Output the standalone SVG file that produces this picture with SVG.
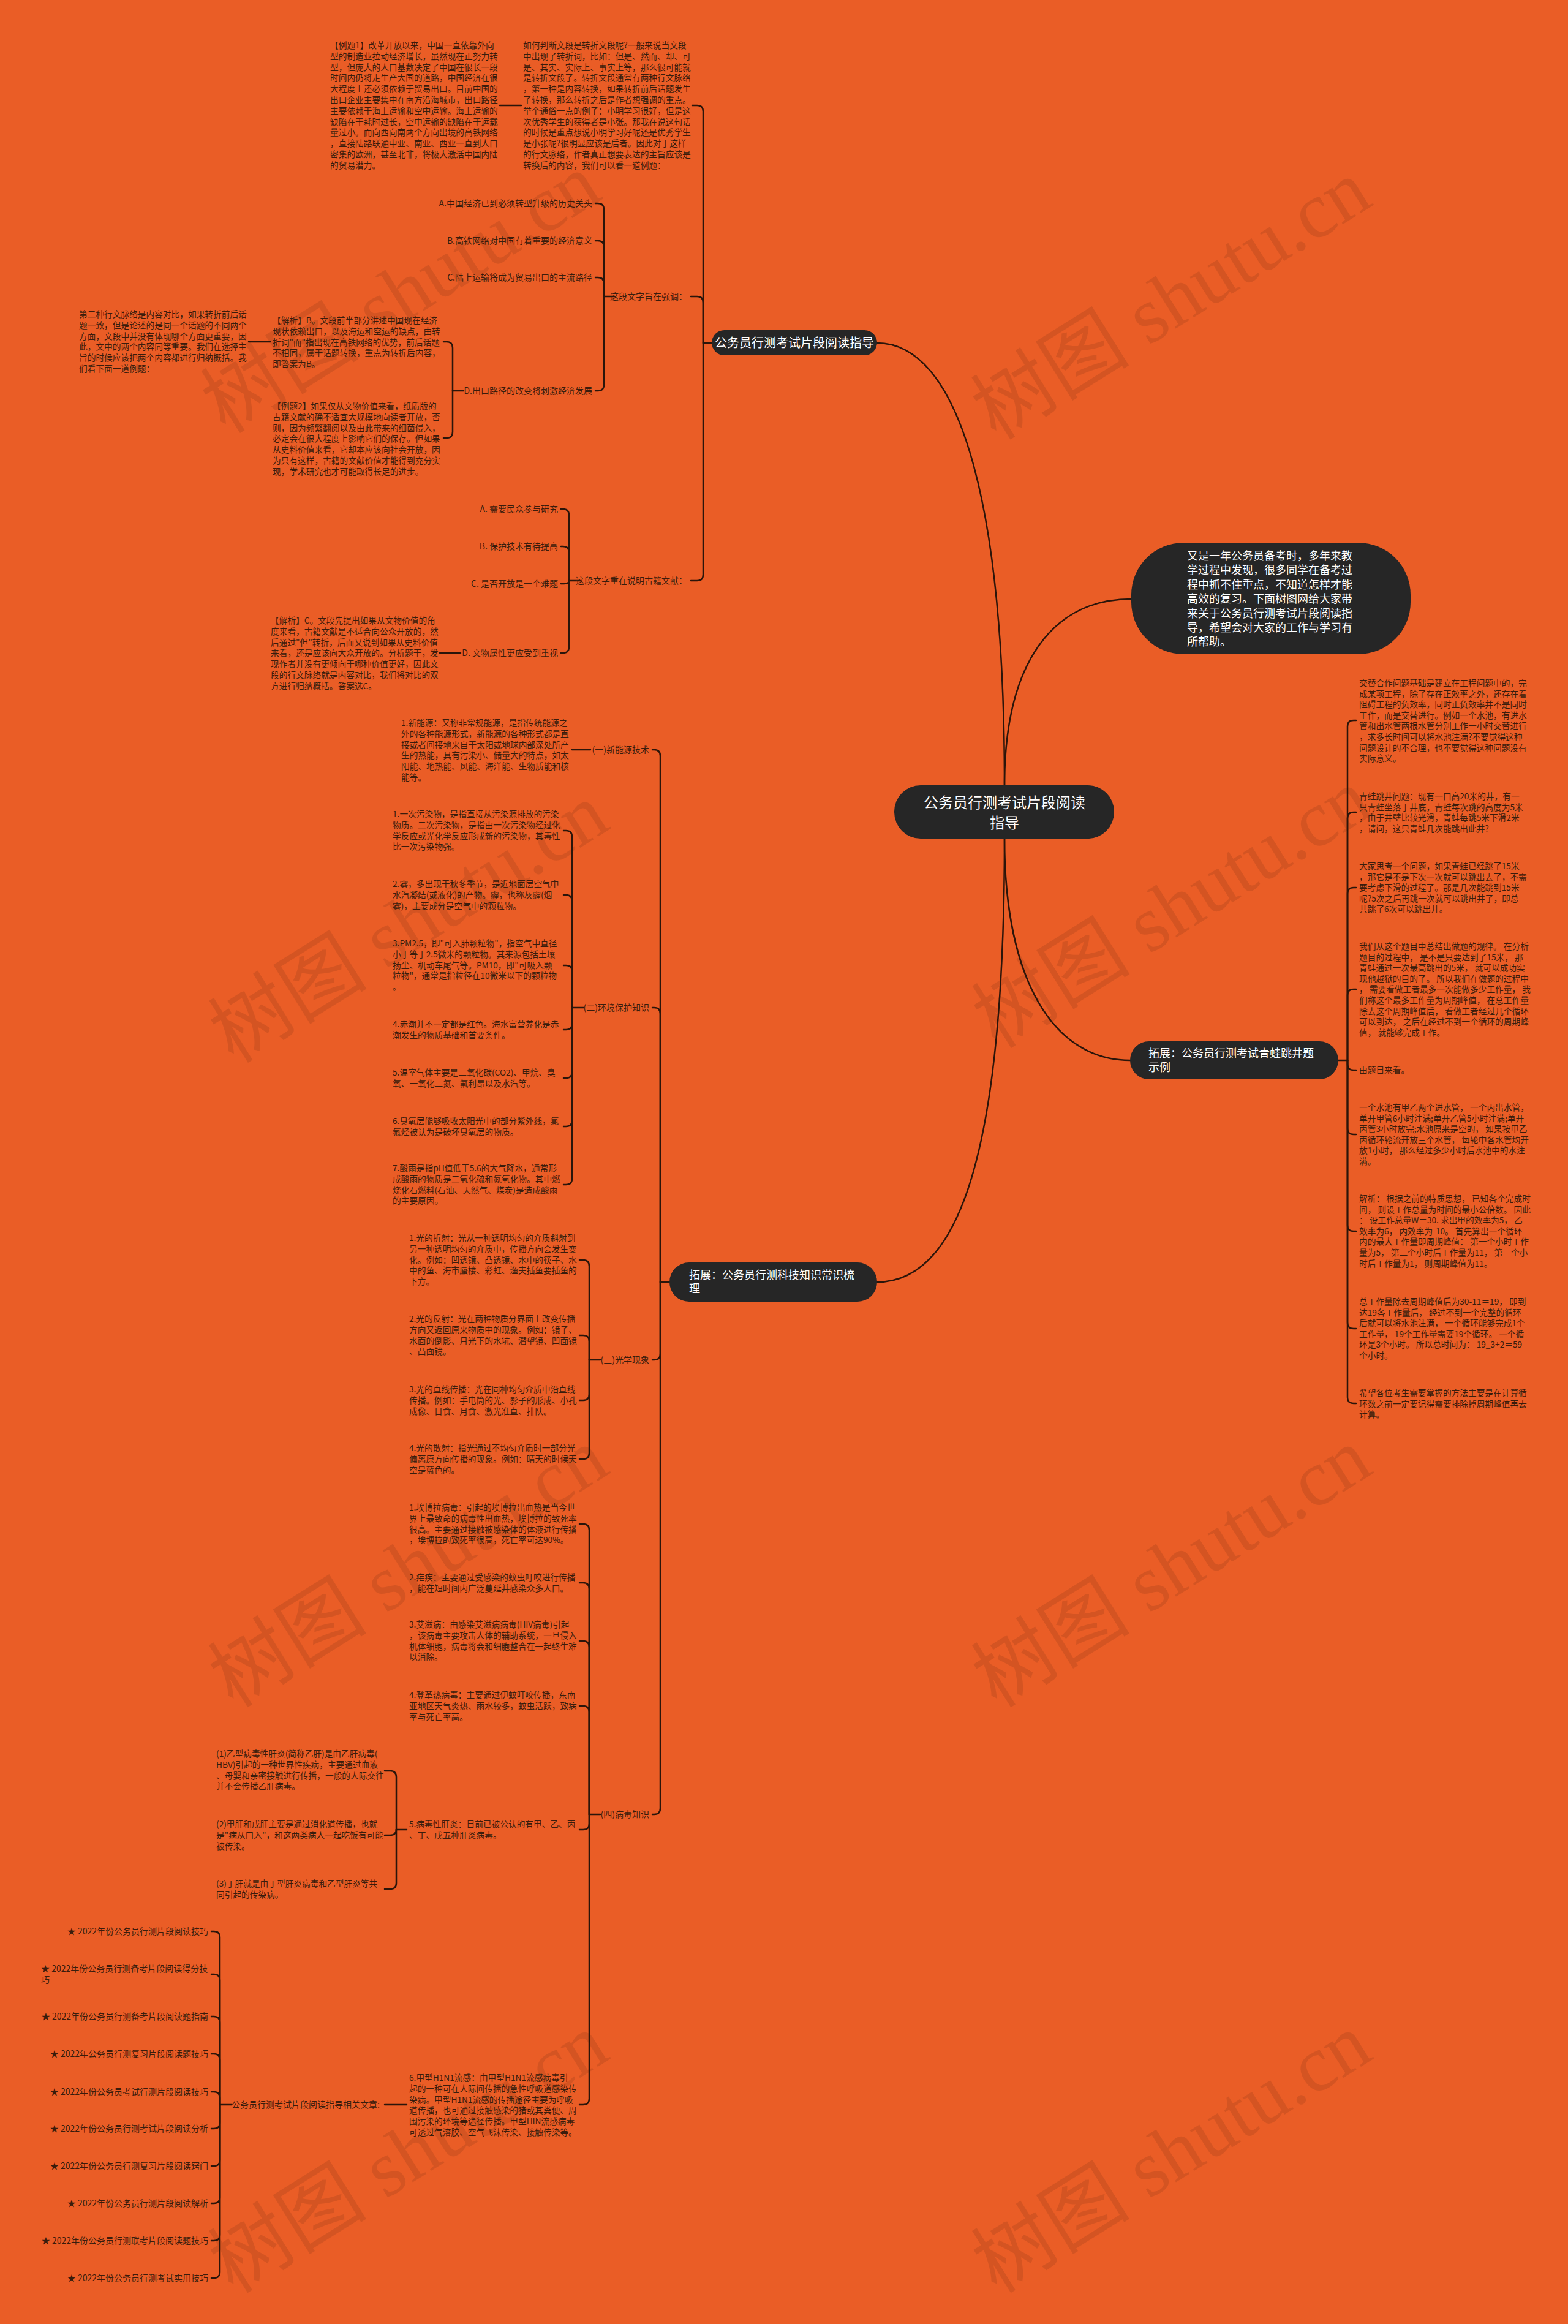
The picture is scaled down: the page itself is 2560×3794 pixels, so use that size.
<svg xmlns="http://www.w3.org/2000/svg" width="2560" height="3794" viewBox="0 0 2560 3794">
<style>
.t{font-family:"Noto Sans CJK SC","Noto Sans",sans-serif;font-size:13.7px;fill:#3a1c0c}
.l{font-family:"Noto Sans CJK SC","Noto Sans",sans-serif;font-size:14px;fill:#3a1c0c}
.nt{font-family:"Noto Sans CJK SC","Noto Sans",sans-serif;fill:#ffffff}
.n{fill:#262626}
.c{fill:none;stroke:#2b150a;stroke-width:2.5;stroke-linecap:round}
.wm{font-family:"Liberation Serif","Noto Sans CJK SC",serif;font-size:130px;fill:#000;opacity:0.09}
</style>
<rect x="0" y="0" width="2560" height="3794" fill="#EA5D26"/>
<g id="watermark">
<text class="wm" x="665" y="520" text-anchor="middle" transform="rotate(-32 665 496)">树图 shutu.cn</text>
<text class="wm" x="1924" y="530" text-anchor="middle" transform="rotate(-32 1924 508)">树图 shutu.cn</text>
<text class="wm" x="678" y="1548" text-anchor="middle" transform="rotate(-32 678 1524)">树图 shutu.cn</text>
<text class="wm" x="1924" y="1524" text-anchor="middle" transform="rotate(-32 1924 1500)">树图 shutu.cn</text>
<text class="wm" x="678" y="2600" text-anchor="middle" transform="rotate(-32 678 2577)">树图 shutu.cn</text>
<text class="wm" x="1924" y="2600" text-anchor="middle" transform="rotate(-32 1924 2577)">树图 shutu.cn</text>
<text class="wm" x="678" y="3556" text-anchor="middle" transform="rotate(-32 678 3533)">树图 shutu.cn</text>
<text class="wm" x="1924" y="3556" text-anchor="middle" transform="rotate(-32 1924 3533)">树图 shutu.cn</text>
</g>
<g id="connectors">
<path class="c" d="M1640,1282 C1640,800 1560,560 1432,560"/>
<path class="c" d="M1640,1282 C1640,1080 1720,978 1847,978"/>
<path class="c" d="M1640,1369 C1640,1600 1720,1731 1845,1731"/>
<path class="c" d="M1640,1369 C1640,1900 1560,2093 1432,2093"/>
<!-- branch 1 -->
<path class="c" d="M1162,560 H1148"/>
<path class="c" d="M1148,560 V182 Q1148,172 1138,172 H1130"/>
<path class="c" d="M1148,560 V494 Q1148,484 1138,484 H1128"/>
<path class="c" d="M1148,560 V938 Q1148,948 1138,948 H1128"/>
<path class="c" d="M851,172 H816"/>
<path class="c" d="M1003,484 H986"/>
<path class="c" d="M986,484 V342 Q986,332 976,332 H972"/>
<path class="c" d="M986,484 V403 Q986,393 976,393 H972"/>
<path class="c" d="M986,484 V463 Q986,453 976,453 H972"/>
<path class="c" d="M986,484 V628 Q986,638 976,638 H972"/>
<path class="c" d="M757,638 H739"/>
<path class="c" d="M739,638 V568 Q739,558 729,558 H724"/>
<path class="c" d="M739,638 V705 Q739,715 729,715 H724"/>
<path class="c" d="M441,558 H406"/>
<path class="c" d="M947,948 H929"/>
<path class="c" d="M929,948 V841 Q929,831 919,831 H916"/>
<path class="c" d="M929,948 V902 Q929,892 919,892 H916"/>
<path class="c" d="M929,948 Q929,953 921,953 H916"/>
<path class="c" d="M929,948 V1056 Q929,1066 919,1066 H916"/>
<path class="c" d="M752,1066 H718"/>
<!-- right branch -->
<path class="c" d="M2185,1731 H2200"/>
<path class="c" d="M2200,1731 V1186 Q2200,1176 2210,1176 H2214"/>
<path class="c" d="M2200,1731 V1336 Q2200,1326 2210,1326 H2214"/>
<path class="c" d="M2200,1731 V1459 Q2200,1449 2210,1449 H2214"/>
<path class="c" d="M2200,1731 V1625 Q2200,1615 2210,1615 H2214"/>
<path class="c" d="M2200,1731 V1737 Q2200,1747 2210,1747 H2214"/>
<path class="c" d="M2200,1731 V1842 Q2200,1852 2210,1852 H2214"/>
<path class="c" d="M2200,1731 V2000 Q2200,2010 2210,2010 H2214"/>
<path class="c" d="M2200,1731 V2159 Q2200,2169 2210,2169 H2214"/>
<path class="c" d="M2200,1731 V2281 Q2200,2291 2210,2291 H2214"/>
<!-- bottom branch -->
<path class="c" d="M1093,2093 H1078"/>
<path class="c" d="M1078,2093 V1234 Q1078,1224 1068,1224 H1065"/>
<path class="c" d="M1078,2093 V1655 Q1078,1645 1068,1645 H1065"/>
<path class="c" d="M1078,2093 V2210 Q1078,2220 1068,2220 H1065"/>
<path class="c" d="M1078,2093 V2952 Q1078,2962 1068,2962 H1065"/>
<path class="c" d="M964,1224 H934"/>
<path class="c" d="M953,1645 H934"/>
<path class="c" d="M934,1645 V1366 Q934,1356 924,1356 H920"/>
<path class="c" d="M934,1645 V1471 Q934,1461 924,1461 H920"/>
<path class="c" d="M934,1645 V1586 Q934,1576 924,1576 H920"/>
<path class="c" d="M934,1645 V1671 Q934,1681 924,1681 H920"/>
<path class="c" d="M934,1645 V1750 Q934,1760 924,1760 H920"/>
<path class="c" d="M934,1645 V1829 Q934,1839 924,1839 H920"/>
<path class="c" d="M934,1645 V1924 Q934,1934 924,1934 H920"/>
<path class="c" d="M980,2220 H962"/>
<path class="c" d="M962,2220 V2067 Q962,2057 952,2057 H946"/>
<path class="c" d="M962,2220 V2190 Q962,2180 952,2180 H946"/>
<path class="c" d="M962,2220 V2276 Q962,2286 952,2286 H946"/>
<path class="c" d="M962,2220 V2372 Q962,2382 952,2382 H946"/>
<path class="c" d="M980,2962 H962"/>
<path class="c" d="M962,2962 V2498 Q962,2488 952,2488 H946"/>
<path class="c" d="M962,2962 V2594 Q962,2584 952,2584 H946"/>
<path class="c" d="M962,2962 V2689 Q962,2679 952,2679 H946"/>
<path class="c" d="M962,2962 V2795 Q962,2785 952,2785 H946"/>
<path class="c" d="M962,2962 V2977 Q962,2987 952,2987 H946"/>
<path class="c" d="M962,2962 V3426 Q962,3436 952,3436 H946"/>
<path class="c" d="M664,2987 H647"/>
<path class="c" d="M647,2987 V2901 Q647,2891 637,2891 H628"/>
<path class="c" d="M647,2987 V2986 Q647,2996 637,2996 H628"/>
<path class="c" d="M647,2987 V3074 Q647,3084 637,3084 H628"/>
<path class="c" d="M664,3436 H628"/>
<path class="c" d="M378,3436 H359"/>
<path class="c" d="M359,3436 V3163 Q359,3153 349,3153 H345"/>
<path class="c" d="M359,3436 V3233 Q359,3223 349,3223 H345"/>
<path class="c" d="M359,3436 V3302 Q359,3292 349,3292 H345"/>
<path class="c" d="M359,3436 V3363 Q359,3353 349,3353 H345"/>
<path class="c" d="M359,3436 V3425 Q359,3415 349,3415 H345"/>
<path class="c" d="M359,3436 V3465 Q359,3475 349,3475 H345"/>
<path class="c" d="M359,3436 V3526 Q359,3536 349,3536 H345"/>
<path class="c" d="M359,3436 V3587 Q359,3597 349,3597 H345"/>
<path class="c" d="M359,3436 V3648 Q359,3658 349,3658 H345"/>
<path class="c" d="M359,3436 V3709 Q359,3719 349,3719 H345"/>
</g>
<g id="central">
<rect class="n" x="1460" y="1282" width="359" height="87" rx="43"/>
<text class="nt" font-size="24" text-anchor="middle" x="1640" y="1319">公务员行测考试片段阅读<tspan x="1640" dy="33">指导</tspan></text>
</g>
<g id="intro">
<rect class="n" x="1847" y="886" width="456" height="182" rx="85"/>
<text class="nt" font-size="18" x="1938" y="914"><tspan x="1938">又是一年公务员备考时，多年来教</tspan><tspan x="1938" dy="23.4">学过程中发现，很多同学在备考过</tspan><tspan x="1938" dy="23.4">程中抓不住重点，不知道怎样才能</tspan><tspan x="1938" dy="23.4">高效的复习。下面树图网给大家带</tspan><tspan x="1938" dy="23.4">来关于公务员行测考试片段阅读指</tspan><tspan x="1938" dy="23.4">导，希望会对大家的工作与学习有</tspan><tspan x="1938" dy="23.4">所帮助。</tspan></text>
</g>
<g id="branch-reading">
<rect class="n" x="1162" y="539" width="270" height="41" rx="20.5"/>
<text class="nt" font-size="20" text-anchor="middle" x="1297" y="567">公务员行测考试片段阅读指导</text>
</g>
<g id="how-to-judge">
<text class="t" x="854" y="79"><tspan x="854">如何判断文段是转折文段呢?一般来说当文段</tspan><tspan x="854" dy="17.8">中出现了转折词，比如：但是、然而、却、可</tspan><tspan x="854" dy="17.8">是、其实、实际上、事实上等，那么很可能就</tspan><tspan x="854" dy="17.8">是转折文段了。转折文段通常有两种行文脉络</tspan><tspan x="854" dy="17.8">，第一种是内容转换，如果转折前后话题发生</tspan><tspan x="854" dy="17.8">了转换，那么转折之后是作者想强调的重点。</tspan><tspan x="854" dy="17.8">举个通俗一点的例子：小明学习很好，但是这</tspan><tspan x="854" dy="17.8">次优秀学生的获得者是小张。那我在说这句话</tspan><tspan x="854" dy="17.8">的时候是重点想说小明学习好呢还是优秀学生</tspan><tspan x="854" dy="17.8">是小张呢?很明显应该是后者。因此对于这样</tspan><tspan x="854" dy="17.8">的行文脉络，作者真正想要表达的主旨应该是</tspan><tspan x="854" dy="17.8">转换后的内容，我们可以看一道例题：</tspan></text>
</g>
<g id="example1">
<text class="t" x="539" y="79"><tspan x="539">【例题1】改革开放以来，中国一直依靠外向</tspan><tspan x="539" dy="17.8">型的制造业拉动经济增长，虽然现在正努力转</tspan><tspan x="539" dy="17.8">型，但庞大的人口基数决定了中国在很长一段</tspan><tspan x="539" dy="17.8">时间内仍将走生产大国的道路，中国经济在很</tspan><tspan x="539" dy="17.8">大程度上还必须依赖于贸易出口。目前中国的</tspan><tspan x="539" dy="17.8">出口企业主要集中在南方沿海城市，出口路径</tspan><tspan x="539" dy="17.8">主要依赖于海上运输和空中运输。海上运输的</tspan><tspan x="539" dy="17.8">缺陷在于耗时过长，空中运输的缺陷在于运载</tspan><tspan x="539" dy="17.8">量过小。而向西向南两个方向出境的高铁网络</tspan><tspan x="539" dy="17.8">，直接陆路联通中亚、南亚、西亚一直到人口</tspan><tspan x="539" dy="17.8">密集的欧洲，甚至北非，将极大激活中国内陆</tspan><tspan x="539" dy="17.8">的贸易潜力。</tspan></text>
</g>
<g id="question1">
<text class="l" x="1122" y="489" text-anchor="end">这段文字旨在强调：</text>
</g>
<g id="q1-options">
<text class="l" x="967" y="337" text-anchor="end">A.中国经济已到必须转型升级的历史关头</text>
<text class="l" x="967" y="398" text-anchor="end">B.高铁网络对中国有着重要的经济意义</text>
<text class="l" x="967" y="458" text-anchor="end">C.陆上运输将成为贸易出口的主流路径</text>
<text class="l" x="967" y="643" text-anchor="end">D.出口路径的改变将刺激经济发展</text>
</g>
<g id="analysis1">
<text class="t" x="445" y="528"><tspan x="445">【解析】B。文段前半部分讲述中国现在经济</tspan><tspan x="445" dy="17.8">现状依赖出口，以及海运和空运的缺点，由转</tspan><tspan x="445" dy="17.8">折词"而"指出现在高铁网络的优势，前后话题</tspan><tspan x="445" dy="17.8">不相同，属于话题转换，重点为转折后内容，</tspan><tspan x="445" dy="17.8">即答案为B。</tspan></text>
</g>
<g id="second-type">
<text class="t" x="129" y="518"><tspan x="129">第二种行文脉络是内容对比，如果转折前后话</tspan><tspan x="129" dy="17.8">题一致，但是论述的是同一个话题的不同两个</tspan><tspan x="129" dy="17.8">方面，文段中并没有体现哪个方面更重要，因</tspan><tspan x="129" dy="17.8">此，文中的两个内容同等重要。我们在选择主</tspan><tspan x="129" dy="17.8">旨的时候应该把两个内容都进行归纳概括。我</tspan><tspan x="129" dy="17.8">们看下面一道例题：</tspan></text>
</g>
<g id="example2">
<text class="t" x="445" y="668"><tspan x="445">【例题2】如果仅从文物价值来看，纸质版的</tspan><tspan x="445" dy="17.8">古籍文献的确不适宜大规模地向读者开放，否</tspan><tspan x="445" dy="17.8">则，因为频繁翻阅以及由此带来的细菌侵入，</tspan><tspan x="445" dy="17.8">必定会在很大程度上影响它们的保存。但如果</tspan><tspan x="445" dy="17.8">从史料价值来看，它却本应该向社会开放，因</tspan><tspan x="445" dy="17.8">为只有这样，古籍的文献价值才能得到充分实</tspan><tspan x="445" dy="17.8">现，学术研究也才可能取得长足的进步。</tspan></text>
</g>
<g id="question2">
<text class="l" x="1122" y="953" text-anchor="end">这段文字重在说明古籍文献：</text>
</g>
<g id="q2-options">
<text class="l" x="911" y="836" text-anchor="end">A. 需要民众参与研究</text>
<text class="l" x="911" y="897" text-anchor="end">B. 保护技术有待提高</text>
<text class="l" x="911" y="958" text-anchor="end">C. 是否开放是一个难题</text>
<text class="l" x="911" y="1071" text-anchor="end">D. 文物属性更应受到重视</text>
</g>
<g id="analysis2">
<text class="t" x="442" y="1018"><tspan x="442">【解析】C。文段先提出如果从文物价值的角</tspan><tspan x="442" dy="17.8">度来看，古籍文献是不适合向公众开放的，然</tspan><tspan x="442" dy="17.8">后通过"但"转折，后面又说到如果从史料价值</tspan><tspan x="442" dy="17.8">来看，还是应该向大众开放的。分析题干，发</tspan><tspan x="442" dy="17.8">现作者并没有更倾向于哪种价值更好，因此文</tspan><tspan x="442" dy="17.8">段的行文脉络就是内容对比，我们将对比的双</tspan><tspan x="442" dy="17.8">方进行归纳概括。答案选C。</tspan></text>
</g>
<g id="branch-frog">
<rect class="n" x="1845" y="1700" width="340" height="62" rx="31"/>
<text class="nt" font-size="18" x="1875" y="1726"><tspan x="1875">拓展：公务员行测考试青蛙跳井题</tspan><tspan x="1875" dy="23">示例</tspan></text>
</g>
<g id="frog-texts">
<text class="t" x="2219" y="1120"><tspan x="2219">交替合作问题基础是建立在工程问题中的，完</tspan><tspan x="2219" dy="17.6">成某项工程，除了存在正效率之外，还存在着</tspan><tspan x="2219" dy="17.6">阻碍工程的负效率，同时正负效率并不是同时</tspan><tspan x="2219" dy="17.6">工作，而是交替进行。例如一个水池，有进水</tspan><tspan x="2219" dy="17.6">管和出水管两根水管分别工作一小时交替进行</tspan><tspan x="2219" dy="17.6">，求多长时间可以将水池注满?不要觉得这种</tspan><tspan x="2219" dy="17.6">问题设计的不合理，也不要觉得这种问题没有</tspan><tspan x="2219" dy="17.6">实际意义。</tspan></text>
<text class="t" x="2219" y="1305"><tspan x="2219">青蛙跳井问题：现有一口高20米的井，有一</tspan><tspan x="2219" dy="17.6">只青蛙坐落于井底，青蛙每次跳的高度为5米</tspan><tspan x="2219" dy="17.6">，由于井壁比较光滑，青蛙每跳5米下滑2米</tspan><tspan x="2219" dy="17.6">，请问，这只青蛙几次能跳出此井?</tspan></text>
<text class="t" x="2219" y="1419"><tspan x="2219">大家思考一个问题，如果青蛙已经跳了15米</tspan><tspan x="2219" dy="17.6">，那它是不是下次一次就可以跳出去了，不需</tspan><tspan x="2219" dy="17.6">要考虑下滑的过程了。那是几次能跳到15米</tspan><tspan x="2219" dy="17.6">呢?5次之后再跳一次就可以跳出井了，即总</tspan><tspan x="2219" dy="17.6">共跳了6次可以跳出井。</tspan></text>
<text class="t" x="2219" y="1550"><tspan x="2219">我们从这个题目中总结出做题的规律。 在分析</tspan><tspan x="2219" dy="17.6">题目的过程中， 是不是只要达到了15米， 那</tspan><tspan x="2219" dy="17.6">青蛙通过一次最高跳出的5米， 就可以成功实</tspan><tspan x="2219" dy="17.6">现他越狱的目的了。 所以我们在做题的过程中</tspan><tspan x="2219" dy="17.6">， 需要看做工者最多一次能做多少工作量， 我</tspan><tspan x="2219" dy="17.6">们称这个最多工作量为周期峰值， 在总工作量</tspan><tspan x="2219" dy="17.6">除去这个周期峰值后， 看做工者经过几个循环</tspan><tspan x="2219" dy="17.6">可以到达， 之后在经过不到一个循环的周期峰</tspan><tspan x="2219" dy="17.6">值， 就能够完成工作。</tspan></text>
<text class="t" x="2219" y="1752">由题目来看。</text>
<text class="t" x="2219" y="1813"><tspan x="2219">一个水池有甲乙两个进水管， 一个丙出水管，</tspan><tspan x="2219" dy="17.6">单开甲管6小时注满;单开乙管5小时注满;单开</tspan><tspan x="2219" dy="17.6">丙管3小时放完;水池原来是空的， 如果按甲乙</tspan><tspan x="2219" dy="17.6">丙循环轮流开放三个水管， 每轮中各水管均开</tspan><tspan x="2219" dy="17.6">放1小时， 那么经过多少小时后水池中的水注</tspan><tspan x="2219" dy="17.6">满。</tspan></text>
<text class="t" x="2219" y="1962"><tspan x="2219">解析： 根据之前的特质思想， 已知各个完成时</tspan><tspan x="2219" dy="17.6">间， 则设工作总量为时间的最小公倍数。 因此</tspan><tspan x="2219" dy="17.6">： 设工作总量W＝30. 求出甲的效率为5， 乙</tspan><tspan x="2219" dy="17.6">效率为6， 丙效率为-10。 首先算出一个循环</tspan><tspan x="2219" dy="17.6">内的最大工作量即周期峰值： 第一个小时工作</tspan><tspan x="2219" dy="17.6">量为5， 第二个小时后工作量为11， 第三个小</tspan><tspan x="2219" dy="17.6">时后工作量为1， 则周期峰值为11。</tspan></text>
<text class="t" x="2219" y="2130"><tspan x="2219">总工作量除去周期峰值后为30-11＝19， 即到</tspan><tspan x="2219" dy="17.6">达19各工作量后， 经过不到一个完整的循环</tspan><tspan x="2219" dy="17.6">后就可以将水池注满， 一个循环能够完成1个</tspan><tspan x="2219" dy="17.6">工作量， 19个工作量需要19个循环。 一个循</tspan><tspan x="2219" dy="17.6">环是3个小时。 所以总时间为： 19_3+2＝59</tspan><tspan x="2219" dy="17.6">个小时。</tspan></text>
<text class="t" x="2219" y="2279"><tspan x="2219">希望各位考生需要掌握的方法主要是在计算循</tspan><tspan x="2219" dy="17.6">环数之前一定要记得需要排除掉周期峰值再去</tspan><tspan x="2219" dy="17.6">计算。</tspan></text>
</g>
<g id="branch-science">
<rect class="n" x="1093" y="2061" width="339" height="64" rx="32"/>
<text class="nt" font-size="18" x="1125" y="2088"><tspan x="1125">拓展：公务员行测科技知识常识梳</tspan><tspan x="1125" dy="22">理</tspan></text>
</g>
<g id="energy">
<text class="l" x="1060" y="1229" text-anchor="end">(一)新能源技术</text>
<text class="t" x="655" y="1185"><tspan x="655">1.新能源：又称非常规能源，是指传统能源之</tspan><tspan x="655" dy="17.8">外的各种能源形式，新能源的各种形式都是直</tspan><tspan x="655" dy="17.8">接或者间接地来自于太阳或地球内部深处所产</tspan><tspan x="655" dy="17.8">生的热能，具有污染小、储量大的特点，如太</tspan><tspan x="655" dy="17.8">阳能、地热能、风能、海洋能、生物质能和核</tspan><tspan x="655" dy="17.8">能等。</tspan></text>
</g>
<g id="environment">
<text class="l" x="1060" y="1650" text-anchor="end">(二)环境保护知识</text>
<text class="t" x="641" y="1334"><tspan x="641">1.一次污染物，是指直接从污染源排放的污染</tspan><tspan x="641" dy="17.8">物质。二次污染物，是指由一次污染物经过化</tspan><tspan x="641" dy="17.8">学反应或光化学反应形成新的污染物，其毒性</tspan><tspan x="641" dy="17.8">比一次污染物强。</tspan></text>
<text class="t" x="641" y="1448"><tspan x="641">2.雾，多出现于秋冬季节，是近地面层空气中</tspan><tspan x="641" dy="17.8">水汽凝结(或液化)的产物。霾，也称灰霾(烟</tspan><tspan x="641" dy="17.8">雾)，主要成分是空气中的颗粒物。</tspan></text>
<text class="t" x="641" y="1545"><tspan x="641">3.PM2.5，即"可入肺颗粒物"，指空气中直径</tspan><tspan x="641" dy="17.8">小于等于2.5微米的颗粒物。其来源包括土壤</tspan><tspan x="641" dy="17.8">扬尘、机动车尾气等。PM10，即"可吸入颗</tspan><tspan x="641" dy="17.8">粒物"，通常是指粒径在10微米以下的颗粒物</tspan><tspan x="641" dy="17.8">。</tspan></text>
<text class="t" x="641" y="1677"><tspan x="641">4.赤潮并不一定都是红色。海水富营养化是赤</tspan><tspan x="641" dy="17.8">潮发生的物质基础和首要条件。</tspan></text>
<text class="t" x="641" y="1756"><tspan x="641">5.温室气体主要是二氧化碳(CO2)、甲烷、臭</tspan><tspan x="641" dy="17.8">氧、一氧化二氮、氟利昂以及水汽等。</tspan></text>
<text class="t" x="641" y="1835"><tspan x="641">6.臭氧层能够吸收太阳光中的部分紫外线，氯</tspan><tspan x="641" dy="17.8">氟烃被认为是破坏臭氧层的物质。</tspan></text>
<text class="t" x="641" y="1912"><tspan x="641">7.酸雨是指pH值低于5.6的大气降水，通常形</tspan><tspan x="641" dy="17.8">成酸雨的物质是二氧化硫和氮氧化物。其中燃</tspan><tspan x="641" dy="17.8">烧化石燃料(石油、天然气、煤炭)是造成酸雨</tspan><tspan x="641" dy="17.8">的主要原因。</tspan></text>
</g>
<g id="optics">
<text class="l" x="1060" y="2225" text-anchor="end">(三)光学现象</text>
<text class="t" x="668" y="2026"><tspan x="668">1.光的折射：光从一种透明均匀的介质斜射到</tspan><tspan x="668" dy="17.8">另一种透明均匀的介质中，传播方向会发生变</tspan><tspan x="668" dy="17.8">化。例如：凹透镜、凸透镜、水中的筷子、水</tspan><tspan x="668" dy="17.8">中的鱼、海市蜃楼、彩虹、渔夫插鱼要插鱼的</tspan><tspan x="668" dy="17.8">下方。</tspan></text>
<text class="t" x="668" y="2158"><tspan x="668">2.光的反射：光在两种物质分界面上改变传播</tspan><tspan x="668" dy="17.8">方向又返回原来物质中的现象。例如：镜子、</tspan><tspan x="668" dy="17.8">水面的倒影、月光下的水坑、潜望镜、凹面镜</tspan><tspan x="668" dy="17.8">、凸面镜。</tspan></text>
<text class="t" x="668" y="2273"><tspan x="668">3.光的直线传播：光在同种均匀介质中沿直线</tspan><tspan x="668" dy="17.8">传播。例如：手电筒的光、影子的形成、小孔</tspan><tspan x="668" dy="17.8">成像、日食、月食、激光准直、排队。</tspan></text>
<text class="t" x="668" y="2369"><tspan x="668">4.光的散射：指光通过不均匀介质时一部分光</tspan><tspan x="668" dy="17.8">偏离原方向传播的现象。例如：晴天的时候天</tspan><tspan x="668" dy="17.8">空是蓝色的。</tspan></text>
</g>
<g id="virus">
<text class="l" x="1060" y="2967" text-anchor="end">(四)病毒知识</text>
<text class="t" x="668" y="2466"><tspan x="668">1.埃博拉病毒：引起的埃博拉出血热是当今世</tspan><tspan x="668" dy="17.8">界上最致命的病毒性出血热，埃博拉的致死率</tspan><tspan x="668" dy="17.8">很高。主要通过接触被感染体的体液进行传播</tspan><tspan x="668" dy="17.8">，埃博拉的致死率很高，死亡率可达90%。</tspan></text>
<text class="t" x="668" y="2580"><tspan x="668">2.疟疾：主要通过受感染的蚊虫叮咬进行传播</tspan><tspan x="668" dy="17.8">，能在短时间内广泛蔓延并感染众多人口。</tspan></text>
<text class="t" x="668" y="2657"><tspan x="668">3.艾滋病：由感染艾滋病病毒(HIV病毒)引起</tspan><tspan x="668" dy="17.8">，该病毒主要攻击人体的辅助系统，一旦侵入</tspan><tspan x="668" dy="17.8">机体细胞，病毒将会和细胞整合在一起终生难</tspan><tspan x="668" dy="17.8">以消除。</tspan></text>
<text class="t" x="668" y="2772"><tspan x="668">4.登革热病毒：主要通过伊蚊叮咬传播，东南</tspan><tspan x="668" dy="17.8">亚地区天气炎热、雨水较多，蚊虫活跃，致病</tspan><tspan x="668" dy="17.8">率与死亡率高。</tspan></text>
<text class="t" x="668" y="2983"><tspan x="668">5.病毒性肝炎：目前已被公认的有甲、乙、丙</tspan><tspan x="668" dy="17.8">、丁、戊五种肝炎病毒。</tspan></text>
<text class="t" x="668" y="3397"><tspan x="668">6.甲型H1N1流感：由甲型H1N1流感病毒引</tspan><tspan x="668" dy="17.8">起的一种可在人际间传播的急性呼吸道感染传</tspan><tspan x="668" dy="17.8">染病。甲型H1N1流感的传播途径主要为呼吸</tspan><tspan x="668" dy="17.8">道传播，也可通过接触感染的猪或其粪便、周</tspan><tspan x="668" dy="17.8">围污染的环境等途径传播。甲型HIN流感病毒</tspan><tspan x="668" dy="17.8">可透过气溶胶、空气飞沫传染、接触传染等。</tspan></text>
</g>
<g id="hepatitis">
<text class="t" x="353" y="2868"><tspan x="353">(1)乙型病毒性肝炎(简称乙肝)是由乙肝病毒(</tspan><tspan x="353" dy="17.8">HBV)引起的一种世界性疾病，主要通过血液</tspan><tspan x="353" dy="17.8">、母婴和亲密接触进行传播，一般的人际交往</tspan><tspan x="353" dy="17.8">并不会传播乙肝病毒。</tspan></text>
<text class="t" x="353" y="2983"><tspan x="353">(2)甲肝和戊肝主要是通过消化道传播，也就</tspan><tspan x="353" dy="17.8">是"病从口入"，和这两类病人一起吃饭有可能</tspan><tspan x="353" dy="17.8">被传染。</tspan></text>
<text class="t" x="353" y="3080"><tspan x="353">(3)丁肝就是由丁型肝炎病毒和乙型肝炎等共</tspan><tspan x="353" dy="17.8">同引起的传染病。</tspan></text>
</g>
<g id="related">
<text class="l" x="620" y="3441" text-anchor="end">公务员行测考试片段阅读指导相关文章:</text>
</g>
<g id="related-list">
<text class="l" x="340" y="3158" text-anchor="end">★ 2022年份公务员行测片段阅读技巧</text>
<text class="l" x="67" y="3219"><tspan x="67">★ 2022年份公务员行测备考片段阅读得分技</tspan><tspan x="67" dy="18">巧</tspan></text>
<text class="l" x="340" y="3297" text-anchor="end">★ 2022年份公务员行测备考片段阅读题指南</text>
<text class="l" x="340" y="3358" text-anchor="end">★ 2022年公务员行测复习片段阅读题技巧</text>
<text class="l" x="340" y="3420" text-anchor="end">★ 2022年份公务员考试行测片段阅读技巧</text>
<text class="l" x="340" y="3480" text-anchor="end">★ 2022年份公务员行测考试片段阅读分析</text>
<text class="l" x="340" y="3541" text-anchor="end">★ 2022年份公务员行测复习片段阅读窍门</text>
<text class="l" x="340" y="3602" text-anchor="end">★ 2022年份公务员行测片段阅读解析</text>
<text class="l" x="340" y="3663" text-anchor="end">★ 2022年份公务员行测联考片段阅读题技巧</text>
<text class="l" x="340" y="3724" text-anchor="end">★ 2022年份公务员行测考试实用技巧</text>
</g>
</svg>
